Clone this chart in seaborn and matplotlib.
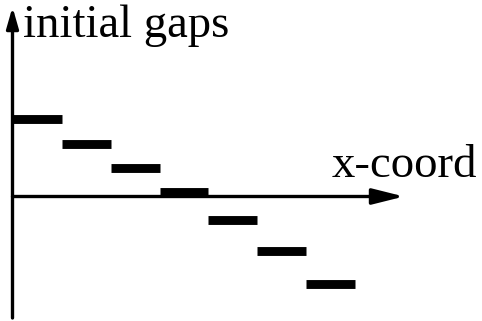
import matplotlib
matplotlib.use("Agg")
import matplotlib.pyplot as plt
import numpy as np
import pandas as pd
import seaborn as sns

# Initial gap per cell along the x coordinate (one flat step per cell)
cells = [0, 1, 2, 3, 4, 5, 6]
gaps = [77.5, 52.5, 28.5, 5.0, -23.5, -54.5, -87.0]

x_label = "x-coord"
y_label = "initial gaps"

sns.set_theme(style="white")
plt.rcParams["font.family"] = ["Liberation Serif", "DejaVu Serif"]

# Each step spans [cell, cell + 1] at a constant gap value
rows = []
for c, g in zip(cells, gaps):
    rows.append({"cell": c, "x": c, "gap": g})
    rows.append({"cell": c, "x": c + 1, "gap": g})
steps = pd.DataFrame(rows)

fig = plt.figure(figsize=(4.82, 3.21), dpi=100)
ax = fig.add_axes([0, 0, 1, 1])

sns.lineplot(data=steps, x="x", y="gap", units="cell", estimator=None,
             color="black", linewidth=6.4, solid_capstyle="butt",
             legend=False, ax=ax)

px_per_cell = (355 - 13) / 7.0
ax.set_xlim(-13 / px_per_cell, (482 - 13) / px_per_cell)
ax.set_ylim(-124.5, 196.5)
ax.set_axis_off()

# Coordinate axes with arrow heads
x_arrow = dict(arrowstyle="-|>,head_length=1.6,head_width=0.4",
               color="black", lw=2.4, shrinkA=0, shrinkB=0)
y_arrow = dict(arrowstyle="-|>,head_length=1.05,head_width=0.3",
               color="black", lw=2.4, shrinkA=0, shrinkB=0)
ax.annotate("", xy=(404 / 482, (321 - 196.5) / 321),
            xytext=(12.5 / 482, (321 - 196.5) / 321),
            xycoords="axes fraction", textcoords="axes fraction",
            arrowprops=x_arrow)
ax.annotate("", xy=(12.5 / 482, (321 - 7) / 321),
            xytext=(12.5 / 482, (321 - 318) / 321),
            xycoords="axes fraction", textcoords="axes fraction",
            arrowprops=y_arrow)

ax.text(23 / 482, (321 - 37) / 321, y_label, transform=ax.transAxes,
        fontsize=33.7, ha="left", va="baseline", color="black")
ax.text(332 / 482, (321 - 177) / 321, x_label, transform=ax.transAxes,
        fontsize=33.7, ha="left", va="baseline", color="black")

fig.savefig("out.png", dpi=100, facecolor="white")
